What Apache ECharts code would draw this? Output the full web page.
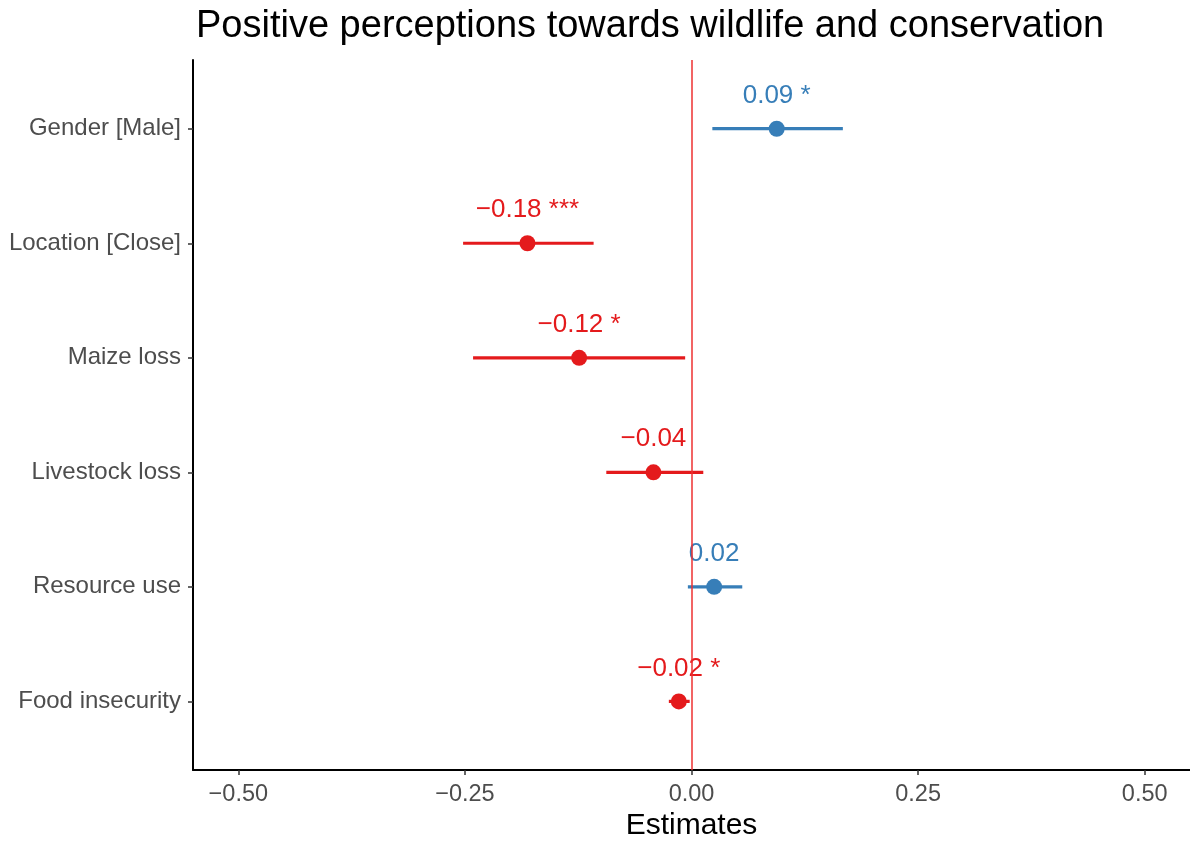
<!DOCTYPE html>
<html>
<head>
<meta charset="utf-8">
<script src="https://cdn.jsdelivr.net/npm/echarts@6/dist/echarts.min.js"></script>
<style>html,body{margin:0;padding:0;background:#fff}#c{width:1190px;height:846px}</style>
</head>
<body>
<div id="c"></div>
<script>
const categories = ['Gender [Male]', 'Location [Close]', 'Maize loss', 'Livestock loss', 'Resource use', 'Food insecurity'];
const estimates = [0.094, -0.181, -0.124, -0.042, 0.025, -0.014];
const ciLow = [0.023, -0.252, -0.241, -0.094, -0.004, -0.025];
const ciHigh = [0.167, -0.108, -0.007, 0.013, 0.056, -0.002];
const labels = ['0.09 *', '\u22120.18 ***', '\u22120.12 *', '\u22120.04', '0.02', '\u22120.02 *'];
const xTicks = [-0.5, -0.25, 0, 0.25, 0.5];
const xTickLabels = ['\u22120.50', '\u22120.25', '0.00', '0.25', '0.50'];

const RED = '#E41A1C', BLUE = '#377EB8';
const FONT = "'Liberation Sans', Arial, sans-serif";
const colorOf = i => estimates[i] < 0 ? RED : BLUE;

const rows = categories.map((c, i) => [estimates[i], i + 1, ciLow[i], ciHigh[i], i]);

const chart = echarts.init(document.getElementById('c'));
chart.setOption({
  animation: false,
  backgroundColor: '#fff',
  title: {
    text: 'Positive perceptions towards wildlife and conservation',
    left: 191, top: 3,
    textStyle: { fontFamily: FONT, fontSize: 38, fontWeight: 'normal', color: '#000' }
  },
  grid: { left: 193, right: 0, top: 60, bottom: 71, containLabel: false },
  xAxis: {
    type: 'value', min: -0.55, max: 0.55,
    name: 'Estimates', nameLocation: 'middle', nameGap: 36,
    nameTextStyle: { fontFamily: FONT, fontSize: 30, color: '#000' },
    axisLine: { show: true, onZero: false, lineStyle: { color: '#000', width: 2 } },
    axisTick: { show: true, length: 5, customValues: xTicks, lineStyle: { color: '#333', width: 1.5 } },
    axisLabel: {
      customValues: xTicks, margin: 12,
      fontFamily: FONT, fontSize: 23.5, color: '#4d4d4d',
      formatter: v => { const k = xTicks.findIndex(t => Math.abs(t - v) < 1e-9); return k >= 0 ? xTickLabels[k] : ''; }
    },
    splitLine: { show: false }
  },
  yAxis: {
    type: 'value', min: 0.4, max: 6.6, inverse: true,
    axisLine: { show: true, onZero: false, lineStyle: { color: '#000', width: 2 } },
    axisTick: { show: true, length: 5, customValues: [1, 2, 3, 4, 5, 6], lineStyle: { color: '#333', width: 1.5 } },
    axisLabel: {
      customValues: [1, 2, 3, 4, 5, 6], margin: 12,
      fontFamily: FONT, fontSize: 24, color: '#4d4d4d',
      formatter: v => categories[Math.round(v) - 1] || ''
    },
    splitLine: { show: false }
  },
  series: [
    {
      type: 'custom',
      data: rows,
      encode: { x: [0, 2, 3], y: 1 },
      clip: false,
      z: 2,
      renderItem: (params, api) => {
        const i = api.value(4);
        const y = api.value(1);
        const p0 = api.coord([api.value(2), y]);
        const p1 = api.coord([api.value(3), y]);
        const pc = api.coord([api.value(0), y]);
        const col = colorOf(i);
        return {
          type: 'group',
          children: [
            { type: 'line', shape: { x1: p0[0], y1: p0[1], x2: p1[0], y2: p1[1] }, style: { stroke: col, lineWidth: 3.2 } },
            { type: 'circle', shape: { cx: pc[0], cy: pc[1], r: 8 }, style: { fill: col } },
            { type: 'text', x: pc[0], y: pc[1] - 33, style: { text: labels[i], fill: col, font: '26px ' + FONT, align: 'center', verticalAlign: 'middle' } }
          ]
        };
      }
    },
    {
      type: 'line',
      data: [],
      z: 5,
      markLine: {
        silent: true, symbol: 'none', label: { show: false },
        lineStyle: { color: '#EE3030', width: 1.5, type: 'solid' },
        data: [{ xAxis: 0 }]
      }
    }
  ]
});
</script>
</body>
</html>
